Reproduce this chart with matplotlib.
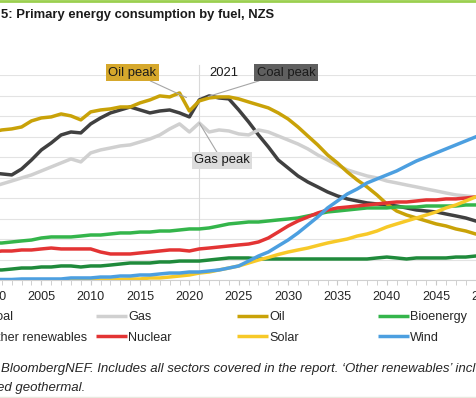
import matplotlib.pyplot as plt
from matplotlib.lines import Line2D
from matplotlib.ticker import MultipleLocator

plt.rcParams['font.family'] = ['Liberation Sans', 'DejaVu Sans']

# primary energy by fuel, EJ
years = list(range(2000, 2051))
coal = [104.4, 103.5, 102.5, 108.3, 117.1, 126.9, 133.7, 141.5, 144.4, 143.5,
        152.3, 158.1, 163.0, 165.9, 168.8, 165.9, 163.0, 164.9, 165.9, 163.0,
        159.1, 175.7, 179.6, 177.6, 176.7, 165.9, 154.2, 141.5, 129.8, 117.1,
        109.3, 101.5, 95.6, 90.8, 85.9, 82.0, 79.1, 77.1, 75.2, 74.2,
        73.2, 72.2, 70.3, 68.3, 67.3, 66.4, 64.4, 62.5, 60.5, 57.6, 55.6]
gas = [90.8, 93.7, 96.6, 99.6, 102.5, 106.4, 110.3, 114.2, 118.1, 115.2,
       124.0, 126.9, 128.8, 130.8, 131.8, 134.7, 137.6, 141.5, 147.4, 152.3,
       144.4, 153.2, 144.4, 146.4, 145.4, 142.5, 141.5, 146.4, 144.4, 140.5,
       136.6, 132.7, 127.9, 122.0, 117.1, 112.2, 107.4, 104.4, 101.5, 99.6,
       96.6, 94.7, 92.7, 90.8, 88.8, 86.9, 84.9, 83.0, 82.0, 81.0, 81.0]
oil = [144.4, 146.4, 147.4, 149.3, 155.2, 158.1, 159.1, 162.0, 160.1, 156.2,
       164.0, 165.9, 166.9, 168.8, 168.8, 172.8, 175.7, 179.6, 178.6, 182.5,
       164.9, 174.7, 177.6, 178.6, 178.6, 176.7, 173.7, 170.8, 167.9, 163.0,
       157.1, 149.3, 140.5, 131.8, 122.0, 114.2, 105.4, 97.6, 90.8, 83.0,
       74.2, 67.3, 63.4, 60.5, 57.6, 54.7, 52.7, 49.8, 47.8, 44.9, 42.9]
bioenergy = [36.1, 36.1, 37.1, 38.1, 39.0, 41.0, 42.0, 42.0, 42.0, 42.9,
             43.9, 43.9, 44.9, 45.9, 45.9, 46.8, 46.8, 47.8, 47.8, 48.8,
             49.8, 49.8, 50.8, 52.7, 54.7, 55.6, 56.6, 56.6, 57.6, 58.6,
             59.5, 60.5, 62.5, 64.4, 66.4, 67.3, 68.3, 69.3, 70.3, 70.3,
             70.3, 71.2, 71.2, 71.2, 72.2, 72.2, 72.2, 72.2, 73.2, 73.2, 73.2]
other_renewables = [9.8, 9.8, 10.7, 11.7, 11.7, 12.7, 12.7, 13.7, 13.7, 12.7,
                    13.7, 13.7, 14.6, 15.6, 16.6, 16.6, 16.6, 17.6, 17.6, 18.5,
                    18.5, 18.5, 19.5, 20.5, 21.5, 21.5, 21.5, 20.5, 20.5, 20.5,
                    20.5, 20.5, 20.5, 20.5, 20.5, 20.5, 20.5, 20.5, 20.5, 21.5,
                    22.4, 21.5, 20.5, 21.5, 21.5, 21.5, 21.5, 22.4, 22.4, 23.4, 22.4]
nuclear = [27.3, 28.3, 28.3, 29.3, 29.3, 30.3, 31.2, 30.3, 30.3, 30.3,
           30.3, 27.3, 25.4, 25.4, 25.4, 26.4, 27.3, 28.3, 29.3, 29.3,
           28.3, 30.3, 31.2, 32.2, 33.2, 34.2, 35.1, 37.1, 41.0, 46.8,
           52.7, 57.6, 61.5, 65.4, 68.3, 70.3, 71.2, 72.2, 73.2, 74.2,
           75.2, 76.1, 76.1, 77.1, 78.1, 78.1, 79.1, 79.1, 80.0, 81.0, 81.0]
solar = [0.0, 0.0, 0.0, 0.0, 0.0, 0.0, 0.0, 0.0, 0.0, 0.0,
         0.0, 0.0, 0.0, 0.5, 1.0, 1.0, 2.0, 2.0, 2.9, 3.9,
         4.9, 6.8, 7.8, 9.8, 11.7, 13.7, 16.6, 19.5, 22.0, 24.9,
         27.3, 29.3, 31.2, 33.7, 36.1, 38.1, 40.0, 42.9, 44.9, 47.8,
         51.7, 54.7, 57.6, 60.5, 63.4, 66.4, 70.3, 73.2, 77.1, 81.0, 84.9]
wind = [0.5, 0.5, 0.5, 1.0, 1.0, 1.0, 1.0, 1.0, 2.0, 2.0,
        2.0, 2.9, 2.9, 3.9, 3.9, 4.9, 4.9, 5.9, 6.8, 6.8,
        7.8, 7.8, 8.8, 9.8, 11.7, 13.7, 18.5, 23.4, 27.3, 33.2,
        39.0, 45.9, 53.7, 61.5, 70.3, 77.1, 83.9, 88.8, 94.7, 98.6,
        102.5, 106.4, 111.3, 116.1, 120.0, 124.0, 127.9, 131.8, 135.7, 139.6, 143.5]

series = [
    ('Coal', coal, '#404040'),
    ('Gas', gas, '#d0d0d0'),
    ('Oil', oil, '#c9a208'),
    ('Bioenergy', bioenergy, '#34b54b'),
    ('Other renewables', other_renewables, '#1f8a3b'),
    ('Nuclear', nuclear, '#e33434'),
    ('Solar', solar, '#f7c928'),
    ('Wind', wind, '#4c9fe0'),
]

W, H = 477, 398
def fx(px):
    return px / W
def fy(py):
    return 1 - py / H

fig = plt.figure(figsize=(W / 100, H / 100), dpi=100)
ax = fig.add_axes([fx(-8), fy(280), 493.5 / W, 205 / H])

lines = {}
for name, vals, col in series:
    lines[name], = ax.plot(years, vals, color=col, lw=2.5, solid_capstyle='butt', label=name)

ax.set_xlim(2000, 2050)
ax.set_ylim(0, 200)
ax.yaxis.set_major_locator(MultipleLocator(20))
ax.xaxis.set_major_locator(MultipleLocator(5))
ax.xaxis.set_minor_locator(MultipleLocator(1))
ax.grid(axis='y', color='#e3e3e3', lw=0.8, zorder=0)
ax.set_axisbelow(True)
for s in ['left', 'right', 'top']:
    ax.spines[s].set_visible(False)
ax.spines['bottom'].set_color('#d0d0d0')
ax.tick_params(axis='y', left=False, labelleft=False)
ax.tick_params(axis='x', which='both', direction='out', length=3.5, color='#c8c8c8',
               labelsize=9.1, labelcolor='#262626', pad=4.5)
ax.axvline(2021, ymax=1.05, color='#d9d9d9', lw=0.8, zorder=1, clip_on=False)

lead = dict(arrowstyle='-', color='#a6a6a6', lw=0.8, shrinkA=0, shrinkB=0)
ax.annotate('Oil peak', xy=(2019.7, 178), xytext=(2014.2, 202.4), ha='center', va='center',
            fontsize=9.4, color='#1a1a1a', annotation_clip=False, arrowprops=lead,
            bbox=dict(boxstyle='square,pad=0.18', fc='#d6a82c', ec='none'))
ax.annotate('Gas peak', xy=(2021, 153.2), xytext=(2023.3, 116.6), ha='center', va='center',
            fontsize=9.4, color='#1a1a1a', annotation_clip=False, arrowprops=lead,
            bbox=dict(boxstyle='square,pad=0.18', fc='#dcdcdc', ec='none'))
ax.annotate('Coal peak', xy=(2021.9, 179), xytext=(2029.8, 202.4), ha='center', va='center',
            fontsize=9.4, color='#1a1a1a', annotation_clip=False, arrowprops=lead,
            bbox=dict(boxstyle='square,pad=0.18', fc='#5f5f5f', ec='none'))
ax.text(2023.5, 202.4, '2021', ha='center', va='center', fontsize=9.4, color='#1a1a1a')

# legend: four evenly spaced columns like the source chart
cols = [['Coal', 'Other renewables'], ['Gas', 'Nuclear'], ['Oil', 'Solar'], ['Bioenergy', 'Wind']]
col_x = [-45, 96, 237, 378]
for names, x in zip(cols, col_x):
    fig.legend([lines[n] for n in names], names, loc='upper left',
               bbox_to_anchor=(fx(x), fy(311)), frameon=False, borderpad=0,
               borderaxespad=0, handlelength=2.45, handletextpad=0.1,
               labelspacing=0.68, fontsize=9.1, labelcolor='#262626')

fig.text(fx(1), fy(15), '5: Primary energy consumption by fuel, NZS', fontsize=9.4,
         fontweight='bold', color='#1a1a1a', va='center', ha='left')
fig.text(fx(1), fy(369), 'BloombergNEF. Includes all sectors covered in the report. '
         '\u2018Other renewables\u2019 includes', fontsize=9.5, style='italic',
         color='#262626', va='center', ha='left')
fig.text(fx(-3), fy(388), 'ed geothermal.', fontsize=9.5, style='italic',
         color='#262626', va='center', ha='left')

fig.add_artist(Line2D([0, 1], [fy(1), fy(1)], transform=fig.transFigure, color='#9bcf4f', lw=2))
fig.add_artist(Line2D([0, 1], [fy(397), fy(397)], transform=fig.transFigure, color='#e8eadf', lw=1))

fig.savefig('out.png', dpi=100)
